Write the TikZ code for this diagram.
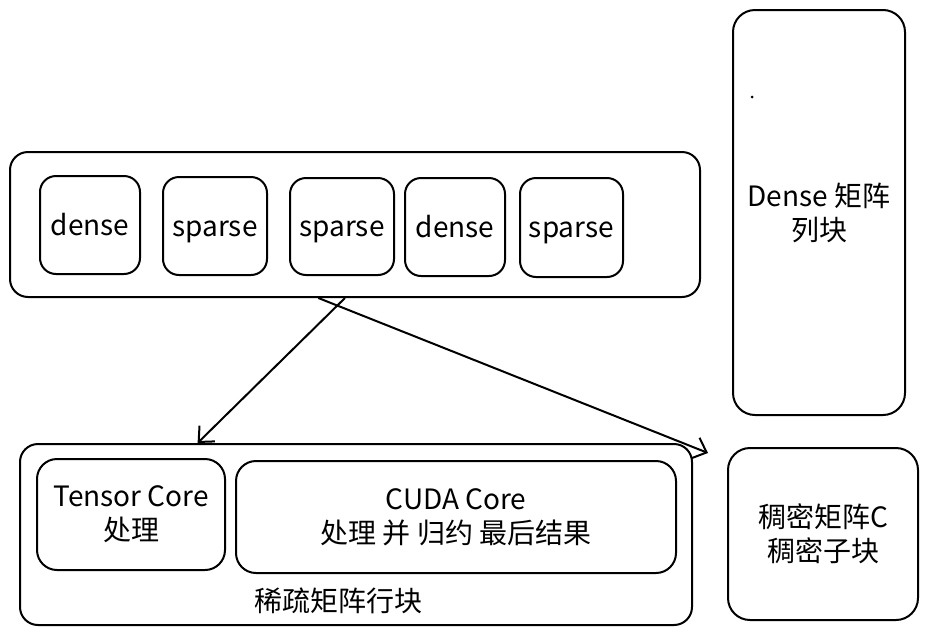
\documentclass[tikz,border=0pt]{standalone}
\usepackage{fontspec}
\newfontfamily\cjk{Noto Sans CJK SC}
\usetikzlibrary{arrows.meta,calc}
\tikzset{
  box/.style={draw, line width=2pt, rounded corners=18pt, inner sep=0pt, align=center},
  cell/.style={box, rounded corners=16pt, text height=20pt, text depth=0pt},
  lbl/.style={font=\cjk\fontsize{28}{34}\selectfont, align=center},
  conn/.style={line width=2pt, -{Straight Barb[length=12pt,width=22pt,line width=2pt]}}
}
\begin{document}
\begin{tikzpicture}[x=1pt,y=-1pt]
\useasboundingbox (0,0) rectangle (928,635);
% top row container
\node[box, minimum width=690pt, minimum height=145pt] (row) at (355,224.5) {};
\node[cell, lbl, minimum width=100pt, minimum height=98pt] (c1) at (90,225) {dense};
\node[cell, lbl, minimum width=104pt, minimum height=98pt] (c2) at (215,226) {sparse};
\node[cell, lbl, minimum width=104pt, minimum height=97pt] (c3) at (342,226.5) {sparse};
\node[cell, lbl, minimum width=100pt, minimum height=98pt] (c4) at (455,227) {dense};
\node[cell, lbl, minimum width=103pt, minimum height=99pt] (c5) at (571.5,227.5) {sparse};
% right column boxes
\node[box, lbl, rounded corners=22pt, minimum width=172pt, minimum height=405pt] (dense) at (819,212.5) {Dense 矩阵\\列块};
\node[box, lbl, rounded corners=22pt, minimum width=190pt, minimum height=172pt] (cmat) at (823,534) {稠密矩阵C\\稠密子块};
\fill (752,97) circle (1.5pt);
% bottom container
\node[box, minimum width=672pt, minimum height=181pt] (blk) at (356,534.5) {};
\node[box, lbl, rounded corners=20pt, minimum width=188pt, minimum height=111pt] (tc) at (131,514.5) {Tensor Core\\处理};
\node[box, lbl, rounded corners=20pt, minimum width=440pt, minimum height=112pt] (cuda) at (456,517) {CUDA Core\\处理 并 归约 最后结果};
\node[lbl] (blklbl) at (338,601) {稀疏矩阵行块};
% connectors
\coordinate (s1) at ($(row.south west)!0.4855!(row.south east)$);
\coordinate (e1) at ($(blk.north west)!0.265!(blk.north east)$);
\coordinate (s2) at ($(row.south west)!0.447!(row.south east)$);
\coordinate (e2) at (708,453);
\draw[conn] (s1) -- (e1);
\draw[conn] (s2) -- (e2);
\end{tikzpicture}
\end{document}
